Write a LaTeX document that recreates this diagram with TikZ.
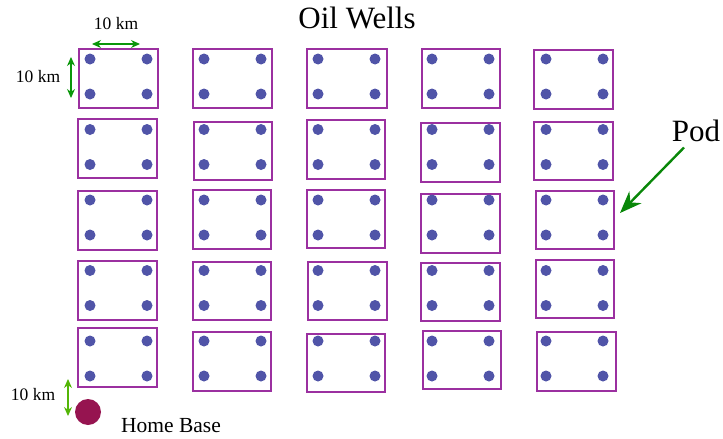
\documentclass[tikz,border=0pt]{standalone}
\usepackage{fontspec}
\setmainfont{Liberation Serif}
\usetikzlibrary{arrows.meta}
\definecolor{podcol}{RGB}{155,48,160}
\definecolor{wellcol}{RGB}{80,84,168}
\definecolor{basecol}{RGB}{150,20,80}
\definecolor{arrcol}{RGB}{10,150,10}
\tikzset{
  podbox/.style={draw=podcol, line width=1.6pt, inner sep=0pt, rectangle},
  well/.style={circle, fill=wellcol, inner sep=0pt, minimum size=11pt},
  dimarrow/.style={draw=arrcol, line width=1.3pt, {Stealth[length=9pt,width=8pt]}-{Stealth[length=9pt,width=8pt]}},
  podarrow/.style={draw=arrcol!90!black, line width=2.4pt, -{Stealth[length=22pt,width=17pt]}},
  lbl/.style={inner sep=0pt, anchor=base}
}
\begin{document}
\begin{tikzpicture}[x=1pt,y=-1pt]
\useasboundingbox (0,0) rectangle (723,439);
% pods
\foreach \r/\c/\xa/\ya/\xb/\yb in {
 1/1/79/49/158/108, 1/2/193/49/272/108, 1/3/307/49/387/108, 1/4/422/49/500/108, 1/5/534/50/613/109,
 2/1/78/119/157/178, 2/2/194/122/272/180, 2/3/307/120/385/179, 2/4/421/123/500/182, 2/5/534/122/613/180,
 3/1/78/191/157/250, 3/2/193/190/271/249, 3/3/307/190/385/248, 3/4/421/194/500/253, 3/5/536/191/614/249,
 4/1/78/261/157/320, 4/2/193/262/271/320, 4/3/308/262/387/320, 4/4/421/263/500/321, 4/5/536/260/614/318,
 5/1/78/328/157/387, 5/2/193/332/271/391, 5/3/307/334/385/392, 5/4/423/331/501/389, 5/5/537/332/616/391}
{
  \pgfmathsetmacro{\cx}{(\xa+\xb)/2}
  \pgfmathsetmacro{\cy}{(\ya+\yb)/2}
  \pgfmathsetmacro{\w}{\xb-\xa}
  \pgfmathsetmacro{\h}{\yb-\ya}
  \node[podbox, minimum width=\w pt, minimum height=\h pt] (p-\r-\c) at (\cx,\cy) {};
  \pgfmathsetmacro{\dx}{90+114*(\c-1)}
  \pgfmathsetmacro{\dy}{59+70.5*(\r-1)}
  \node[well] (w-\r-\c-1) at (\dx,\dy) {};
  \node[well] (w-\r-\c-2) at (\dx+57,\dy) {};
  \node[well] (w-\r-\c-3) at (\dx,\dy+35) {};
  \node[well] (w-\r-\c-4) at (\dx+57,\dy+35) {};
}
% title
\node[lbl, font=\fontsize{31}{31}\selectfont] (title) at (357,28) {Oil Wells};
% dimension markers
\coordinate (ha) at (92,44); \coordinate (hb) at (140,44);
\draw[dimarrow] (ha) -- (hb);
\node[lbl, font=\fontsize{17.5}{17.5}\selectfont] (ltop) at (116,29) {10 km};
\coordinate (va) at (71,57); \coordinate (vb) at (71,98);
\draw[dimarrow] (va) -- (vb);
\node[lbl, font=\fontsize{17.5}{17.5}\selectfont] (lleft) at (38,82) {10 km};
\coordinate (ba) at (68,379); \coordinate (bb) at (68,416);
\draw[dimarrow, draw=arrcol!70!yellow] (ba) -- (bb);
\node[lbl, font=\fontsize{17.5}{17.5}\selectfont] (lbot) at (33,400) {10 km};
% home base
\node[circle, fill=basecol, inner sep=0pt, minimum size=26pt] (home) at (88,412) {};
\node[lbl, font=\fontsize{21.5}{21.5}\selectfont] (homelbl) at (171,432) {Home Base};
% pod label
\node[lbl, font=\fontsize{31}{31}\selectfont] (pod) at (696,141) {Pod};
\coordinate (podtip) at (620,213);
\draw[podarrow] (pod.south) ++(-12,6) coordinate (podstart) (podstart) -- (podtip);
\end{tikzpicture}
\end{document}
